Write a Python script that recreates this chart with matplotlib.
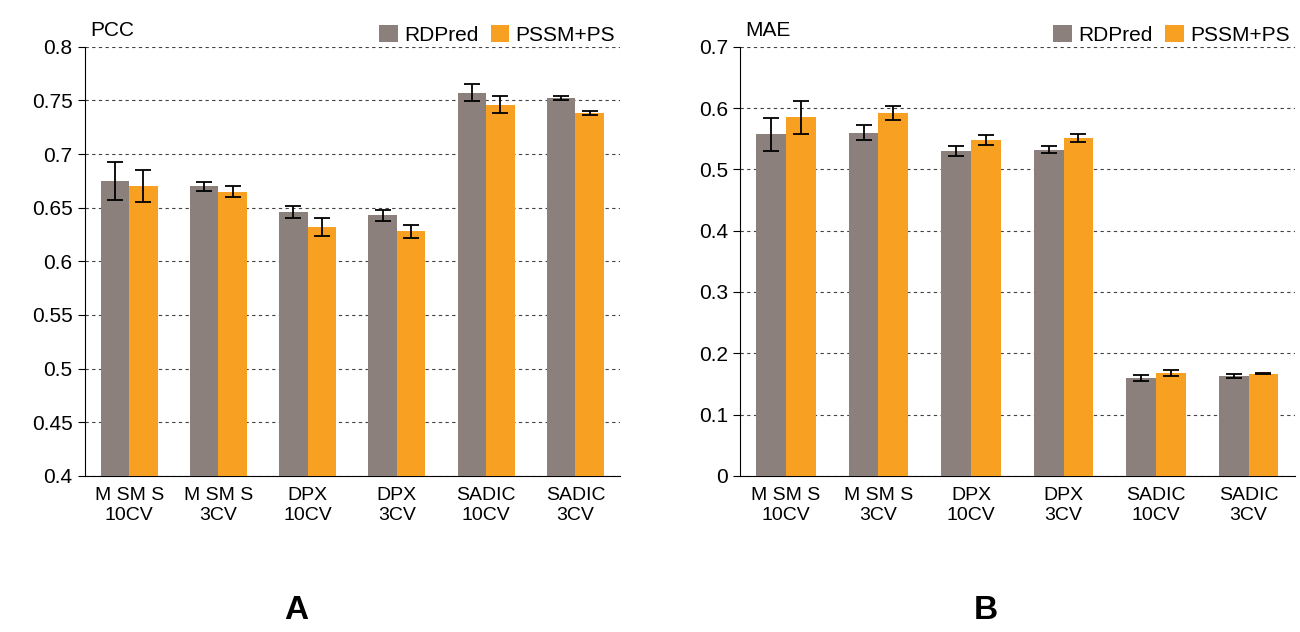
import matplotlib
matplotlib.use("Agg")
import matplotlib.pyplot as plt
import numpy as np

plt.rcParams["font.family"] = ["Liberation Sans", "DejaVu Sans"]

categories = ["M SM S\n10CV", "M SM S\n3CV", "DPX\n10CV", "DPX\n3CV", "SADIC\n10CV", "SADIC\n3CV"]
series = ["RDPred", "PSSM+PS"]

pcc_rd = [0.675, 0.670, 0.646, 0.643, 0.757, 0.752]
pcc_rd_err = [0.018, 0.004, 0.006, 0.005, 0.008, 0.002]
pcc_ps = [0.670, 0.665, 0.632, 0.628, 0.746, 0.738]
pcc_ps_err = [0.015, 0.005, 0.008, 0.006, 0.008, 0.002]

mae_rd = [0.557, 0.560, 0.530, 0.532, 0.160, 0.163]
mae_rd_err = [0.027, 0.012, 0.008, 0.006, 0.005, 0.003]
mae_ps = [0.585, 0.592, 0.548, 0.551, 0.168, 0.167]
mae_ps_err = [0.027, 0.012, 0.008, 0.006, 0.005, 0.001]

C_GREY = "#8C807C"
C_ORANGE = "#F7A021"

fig = plt.figure(figsize=(13, 6.32), dpi=100)
ax1 = fig.add_axes([0.065, 0.247, 0.412, 0.679])
ax2 = fig.add_axes([0.569, 0.247, 0.427, 0.679])

def panel(ax, rd, rde, ps, pse, ylim, step, title, fmt, anchor_x):
    x = np.arange(len(categories))
    w = 0.32
    ek = dict(ecolor="black", capsize=6, elinewidth=1.3, capthick=1.3)
    ax.bar(x - w / 2, rd, w, yerr=rde, color=C_GREY, error_kw=ek, label=series[0], zorder=3)
    ax.bar(x + w / 2, ps, w, yerr=pse, color=C_ORANGE, error_kw=ek, label=series[1], zorder=3)
    ax.set_ylim(*ylim)
    ax.set_xlim(-0.5, len(categories) - 0.5)
    ticks = np.arange(ylim[0], ylim[1] + 1e-9, step)
    ax.set_yticks(ticks)
    ax.set_yticklabels([fmt(t) for t in ticks], fontsize=15)
    ax.set_xticks(x)
    ax.set_xticklabels(categories, fontsize=14)
    ax.tick_params(axis="x", length=0, pad=8)
    ax.tick_params(axis="y", direction="out", length=5)
    ax.yaxis.grid(True, linestyle=(0, (3, 3)), color="#444444", lw=0.8, zorder=0)
    for s in ["top", "right"]:
        ax.spines[s].set_visible(False)
    ax.text(0.01, 1.015, title, transform=ax.transAxes, fontsize=15, va="bottom")
    ax.legend(loc="lower right", bbox_to_anchor=(anchor_x, 1.0), ncol=2, frameon=False,
              fontsize=15, handlelength=0.9, handleheight=0.9, columnspacing=0.6,
              handletextpad=0.3, borderaxespad=0.0, borderpad=0.1)

panel(ax1, pcc_rd, pcc_rd_err, pcc_ps, pcc_ps_err, (0.4, 0.8), 0.05, "PCC",
      lambda t: ("%.2f" % t).rstrip("0").rstrip("."), 0.995)
panel(ax2, mae_rd, mae_rd_err, mae_ps, mae_ps_err, (0.0, 0.7), 0.1, "MAE",
      lambda t: ("%.1f" % t) if t > 0 else "0", 0.995)

fig.text(0.228, 0.02, "A", fontsize=24, fontweight="bold", ha="center")
fig.text(0.758, 0.02, "B", fontsize=24, fontweight="bold", ha="center")

fig.savefig("out.png", dpi=100)
